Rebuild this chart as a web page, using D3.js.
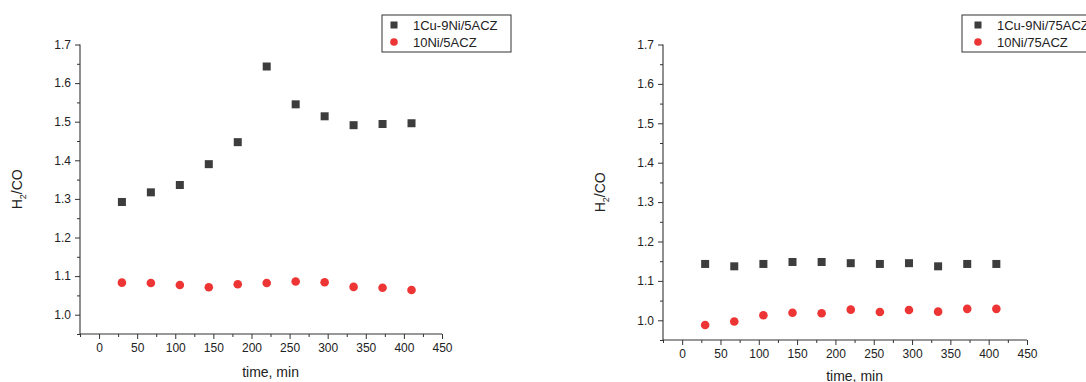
<!DOCTYPE html>
<html><head><meta charset="utf-8">
<script src="https://cdn.jsdelivr.net/npm/d3@7"></script>
<style>body{margin:0;background:#fff;} svg{display:block;font-family:"Liberation Sans",Arial,sans-serif;}</style>
</head><body>
<svg id="c" width="1086" height="382"></svg>
<script>
const times = [30, 68, 106, 144, 182, 220, 258, 296, 334, 372, 410];
const cuNi5 = [1.292, 1.317, 1.336, 1.390, 1.447, 1.643, 1.545, 1.514, 1.491, 1.494, 1.496];
const ni5 = [1.083, 1.082, 1.077, 1.071, 1.079, 1.082, 1.086, 1.084, 1.072, 1.070, 1.064];
const cuNi75 = [1.143, 1.137, 1.143, 1.148, 1.148, 1.145, 1.143, 1.145, 1.137, 1.143, 1.143];
const ni75 = [0.988, 0.997, 1.013, 1.019, 1.018, 1.027, 1.021, 1.026, 1.022, 1.029, 1.029];
const xTicks = [0, 50, 100, 150, 200, 250, 300, 350, 400, 450];
const yTicks = [1.0, 1.1, 1.2, 1.3, 1.4, 1.5, 1.6, 1.7];
const xDomain = [-25, 450];
const yDomain = [0.95, 1.7];
const seriesNames5 = ["1Cu-9Ni/5ACZ", "10Ni/5ACZ"];
const seriesNames75 = ["1Cu-9Ni/75ACZ", "10Ni/75ACZ"];
const colors = ["#3d3d3d", "#ee3535"];

const svg = d3.select("#c");
const axisColor = "#333";

function panel(cfg) {
  const x = d3.scaleLinear().domain(xDomain).range([cfg.x0, cfg.x1]);
  const y = d3.scaleLinear().domain(yDomain).range([cfg.y0, cfg.y1]);
  const g = svg.append("g");
  const xMinor = d3.range(-25, 451, 50);
  const yMinor = d3.range(0.95, 1.7, 0.1);

  const xa = g.append("g").attr("transform", `translate(0,${cfg.y0})`)
    .call(d3.axisBottom(x).tickValues(xMinor).tickSize(3).tickFormat(""));
  const xb = g.append("g").attr("transform", `translate(0,${cfg.y0})`)
    .call(d3.axisBottom(x).tickValues(xTicks).tickSize(5).tickSizeOuter(0).tickPadding(4).tickFormat(d3.format("d")));
  const ya = g.append("g").attr("transform", `translate(${cfg.x0},0)`)
    .call(d3.axisLeft(y).tickValues(yMinor).tickSize(3).tickFormat(""));
  const yb = g.append("g").attr("transform", `translate(${cfg.x0},0)`)
    .call(d3.axisLeft(y).tickValues(yTicks).tickSize(5).tickSizeOuter(0).tickPadding(4).tickFormat(d3.format(".1f")));
  [xa, xb, ya, yb].forEach(a => {
    a.selectAll("path").attr("stroke", axisColor).attr("stroke-width", 1.1);
    a.selectAll("line").attr("stroke", axisColor).attr("stroke-width", 1);
    a.selectAll("text").attr("fill", "#222").attr("font-size", 12).attr("font-family", "Liberation Sans, Arial, sans-serif");
  });
  xa.select("path").remove(); ya.select("path").remove();
  xb.select("path").attr("d", `M${cfg.x0},0H${cfg.x1}`);
  yb.select("path").attr("d", `M0,${cfg.y0}V${cfg.y1}`);

  g.append("text").attr("x", (x(0) + x(450)) / 2).attr("y", cfg.y0 + cfg.ty)
    .attr("text-anchor", "middle").attr("font-size", 14).attr("fill", "#222").text("time, min");
  const yt = g.append("text").attr("transform", `translate(${cfg.x0 - 58},${(cfg.y0 + cfg.y1) / 2}) rotate(-90)`)
    .attr("text-anchor", "middle").attr("font-size", 14).attr("fill", "#222");
  yt.append("tspan").text("H");
  yt.append("tspan").attr("font-size", 9).attr("dy", 4).text("2");
  yt.append("tspan").attr("dy", -4).text("/CO");

  const s = 8;
  g.selectAll("rect.pt").data(times.map((t, i) => [t, cfg.a[i]])).join("rect")
    .attr("x", d => x(d[0]) - s / 2).attr("y", d => y(d[1]) - s / 2)
    .attr("width", s).attr("height", s).attr("fill", colors[0]);
  g.selectAll("circle.pt").data(times.map((t, i) => [t, cfg.b[i]])).join("circle")
    .attr("cx", d => x(d[0])).attr("cy", d => y(d[1])).attr("r", 4.3).attr("fill", colors[1]);

  const L = g.append("g").attr("transform", `translate(${cfg.lx},${cfg.ly})`);
  L.append("rect").attr("x", 0).attr("y", 0).attr("width", cfg.lw).attr("height", 37)
    .attr("fill", "#fff").attr("stroke", "#333").attr("stroke-width", 1);
  L.append("rect").attr("x", cfg.mx - 3.5).attr("y", 10 - 3.5).attr("width", 7).attr("height", 7).attr("fill", colors[0]);
  L.append("circle").attr("cx", cfg.mx).attr("cy", 27).attr("r", 3.8).attr("fill", colors[1]);
  L.append("text").attr("x", cfg.tx).attr("y", 15).attr("font-size", 13).attr("fill", "#222").text(cfg.names[0]);
  L.append("text").attr("x", cfg.tx).attr("y", 32).attr("font-size", 13).attr("fill", "#222").text(cfg.names[1]);
}

panel({x0: 80, x1: 442, y0: 334, y1: 44.5, a: cuNi5, b: ni5, names: seriesNames5,
  lx: 382, ly: 15, lw: 129, mx: 12, tx: 31, ty: 43});
panel({x0: 663, x1: 1027, y0: 340, y1: 44.5, a: cuNi75, b: ni75, names: seriesNames75,
  lx: 962, ly: 15, lw: 130, mx: 16, tx: 35, ty: 41});
</script>
</body></html>
